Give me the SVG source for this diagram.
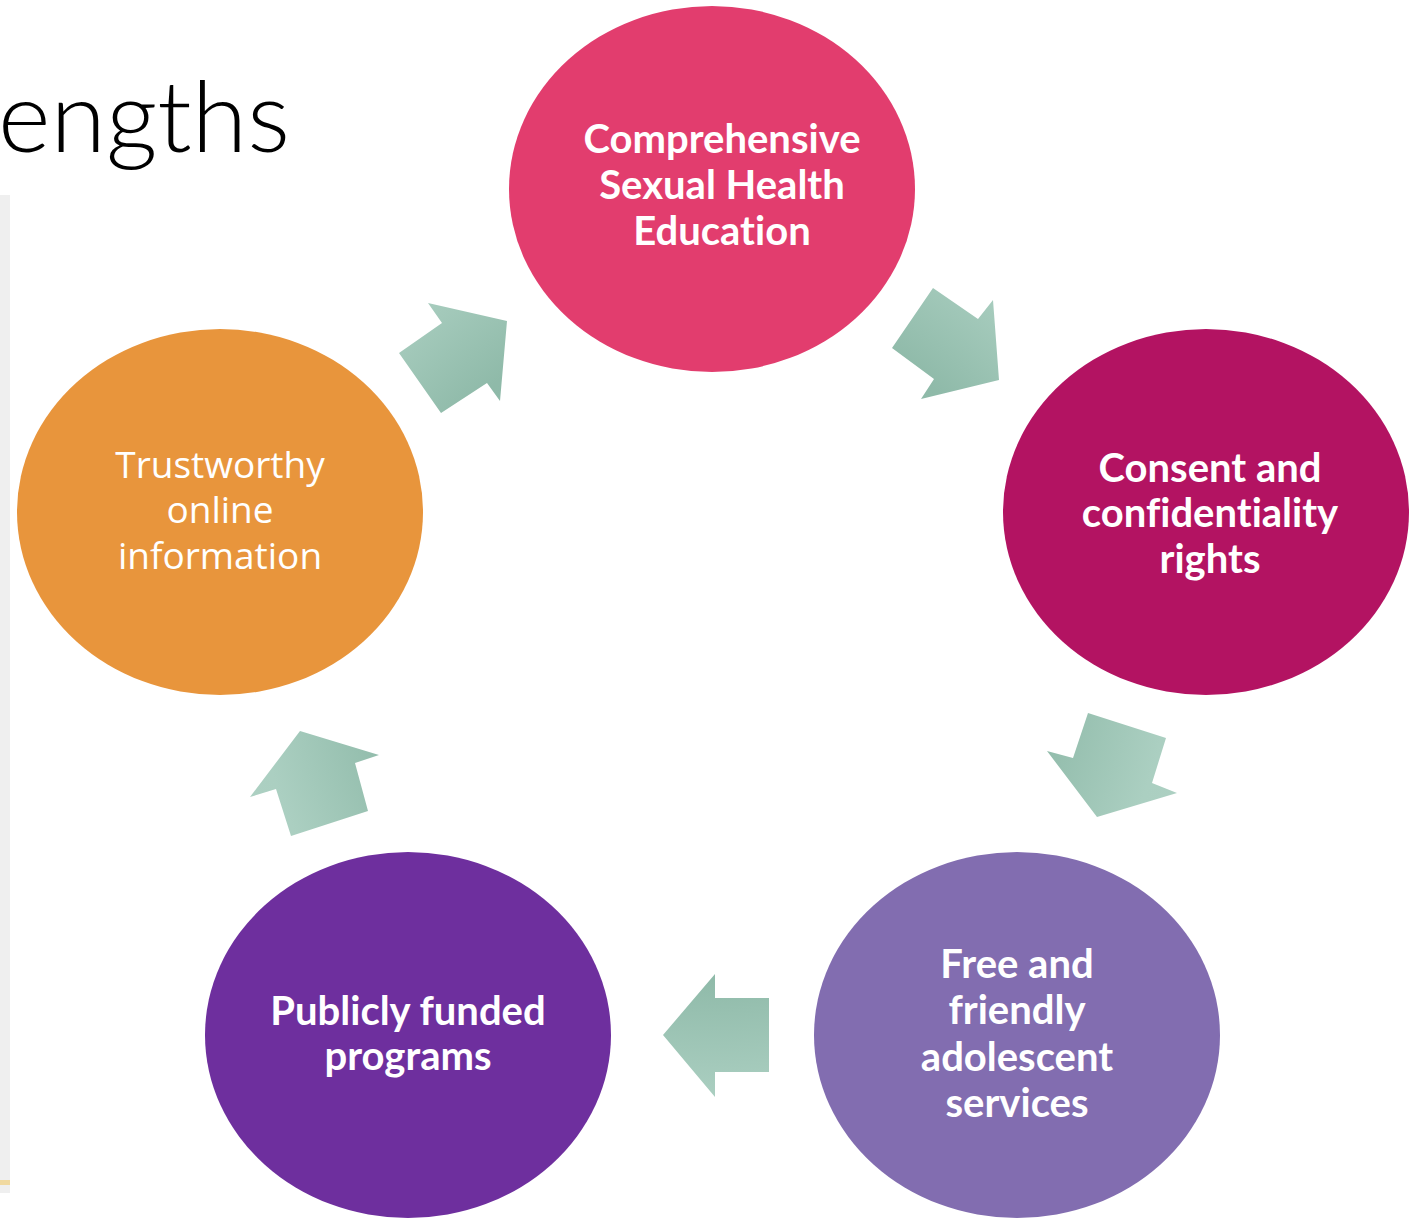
<svg xmlns="http://www.w3.org/2000/svg" width="1414" height="1220" viewBox="0 0 1414 1220">
<style>
.lbl{font-family:Lato,"Open Sans","Liberation Sans",sans-serif;font-size:40px;font-weight:bold;fill:#fff;text-anchor:middle;font-variant-ligatures:none}
.lbl2{font-family:"Open Sans","Liberation Sans",sans-serif;font-size:37px;font-weight:normal;fill:#fff;text-anchor:middle}
.arrow{fill:url(#ag)}
</style>
<defs>
<radialGradient id="ag" gradientUnits="userSpaceOnUse" cx="712" cy="640" r="560">
<stop offset="0" stop-color="#86b4a2"/>
<stop offset="0.6" stop-color="#8fbaa9"/>
<stop offset="0.82" stop-color="#abcfc1"/>
<stop offset="1" stop-color="#b0d2c4"/>
</radialGradient>
</defs>
<rect x="0" y="0" width="1414" height="1220" fill="#fff"/>
<rect x="0" y="195" width="10" height="998" fill="#efefef"/>
<rect x="0" y="1180" width="10" height="5" fill="#f0d9a0"/>
<text x="-2" y="152" font-family="Lato,'Open Sans',sans-serif" font-weight="300" font-size="98" fill="#000" textLength="292" lengthAdjust="spacingAndGlyphs">engths</text>
<g id="connectors">
<polygon class="arrow" points="428,303 507,321 500,401 487,383 441,413 399,353 442,323"/>
<polygon class="arrow" points="933,288 978,319 993,300 999,380 921,399 934,379 892,348"/>
<polygon class="arrow" points="1088,713 1166,738 1152,783 1177,793 1097,817 1047,751 1073,758"/>
<polygon class="arrow" points="715,974 715,998 769,998 769,1072 715,1072 715,1097 663,1035"/>
<polygon class="arrow" points="300,731 379,755 355,763 368,811 291,836 276,789 250,797"/>
</g>
<g id="node1">
<ellipse cx="712" cy="189" rx="203" ry="183" fill="#e23d6e"/>
<text class="lbl" x="722" y="153">Comprehensive</text>
<text class="lbl" x="722" y="199">Sexual Health</text>
<text class="lbl" x="722" y="245">Education</text>
</g>
<g id="node2">
<ellipse cx="1206" cy="512" rx="203" ry="183" fill="#b31362"/>
<text class="lbl" x="1210" y="482">Consent and</text>
<text class="lbl" x="1210" y="527">confidentiality</text>
<text class="lbl" x="1210" y="573">rights</text>
</g>
<g id="node3">
<ellipse cx="1017" cy="1035" rx="203" ry="183" fill="#826db0"/>
<text class="lbl" x="1017" y="978">Free and</text>
<text class="lbl" x="1017" y="1024">friendly</text>
<text class="lbl" x="1017" y="1071">adolescent</text>
<text class="lbl" x="1017" y="1117">services</text>
</g>
<g id="node4">
<ellipse cx="408" cy="1035" rx="203" ry="183" fill="#6e2f9e"/>
<text class="lbl" x="408" y="1025">Publicly funded</text>
<text class="lbl" x="408" y="1070">programs</text>
</g>
<g id="node5">
<ellipse cx="220" cy="512" rx="203" ry="183" fill="#e8953c"/>
<text class="lbl2" x="220" y="478">Trustworthy</text>
<text class="lbl2" x="220" y="523">online</text>
<text class="lbl2" x="220" y="569">information</text>
</g>
</svg>
